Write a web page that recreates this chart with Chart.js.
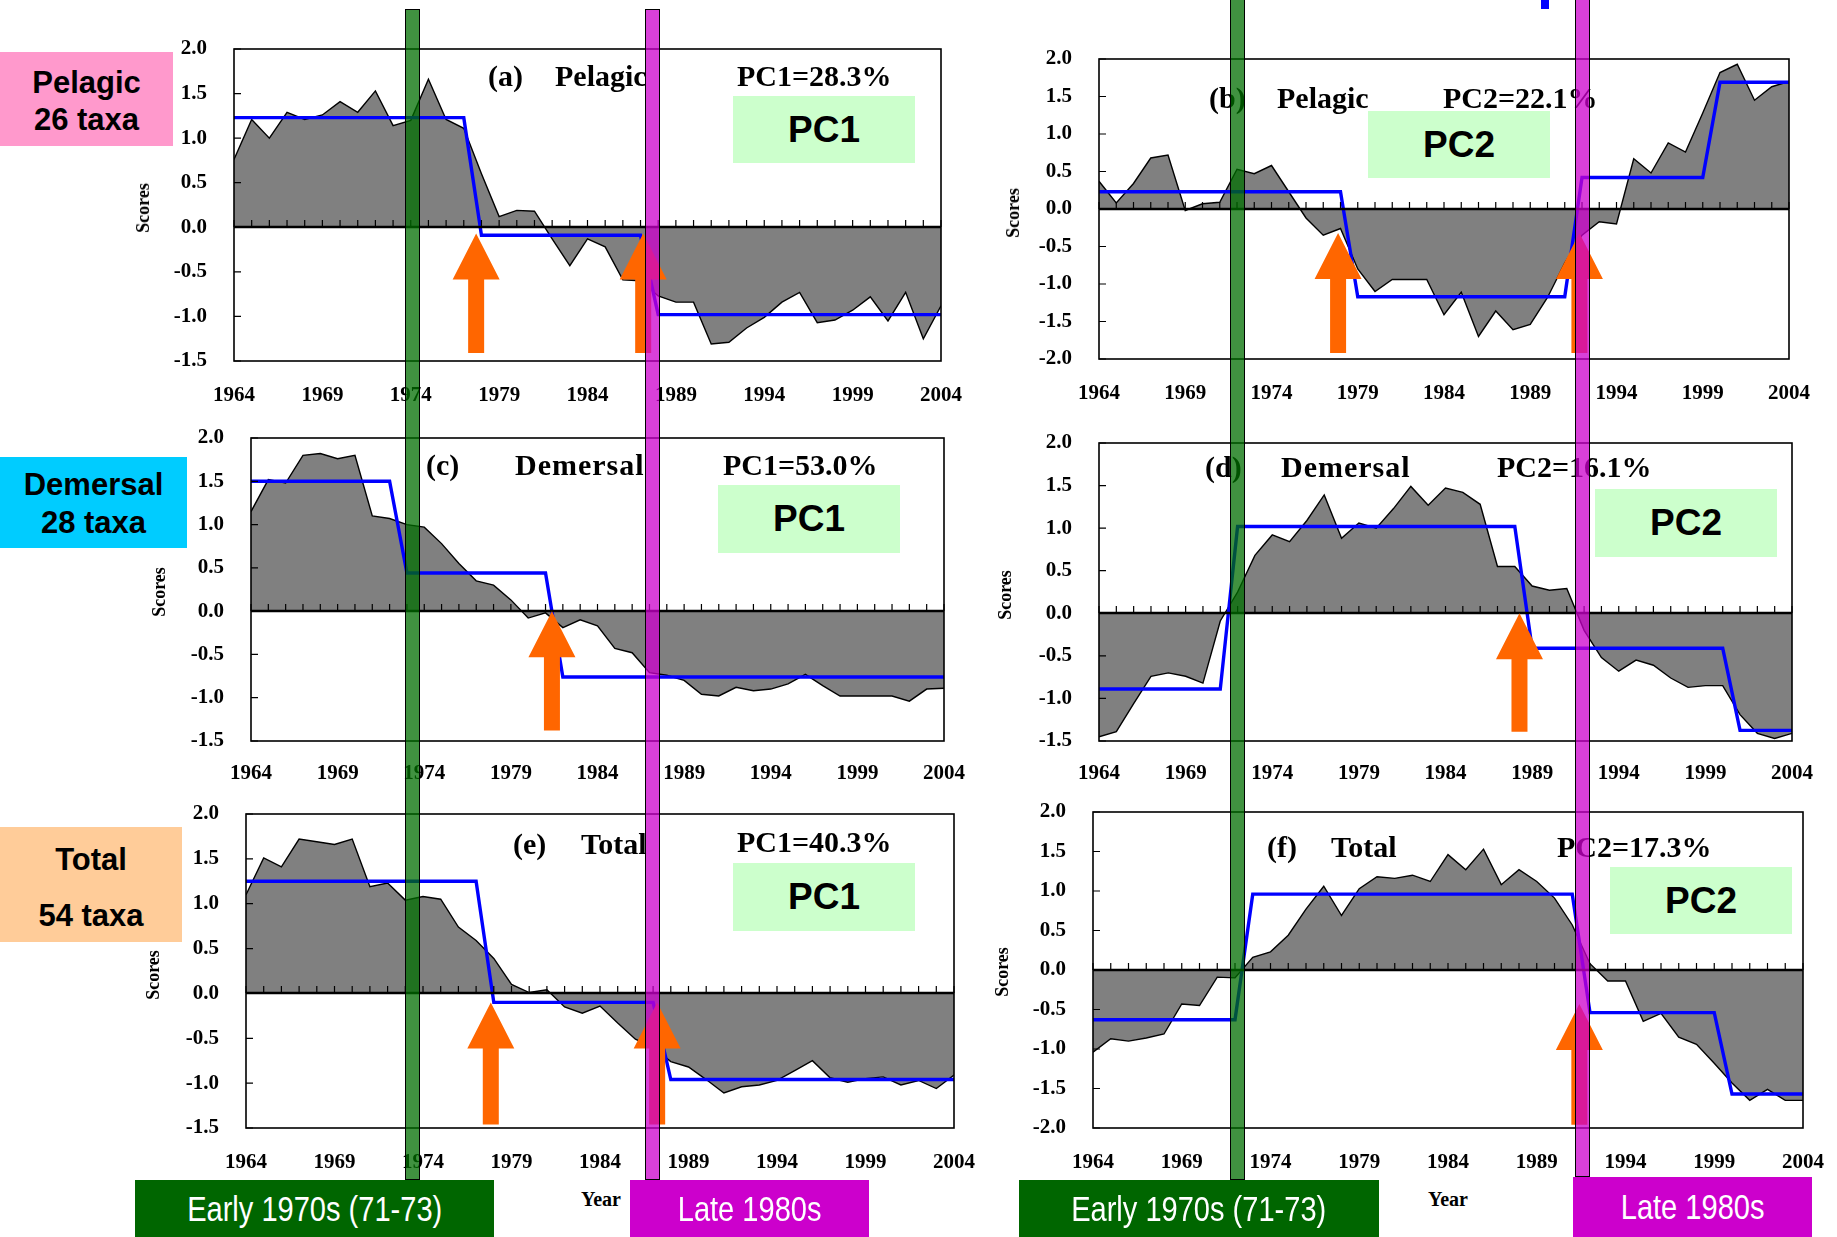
<!DOCTYPE html>
<html><head><meta charset="utf-8">
<script src="https://cdn.jsdelivr.net/npm/chart.js@4.4.1/dist/chart.umd.min.js"></script>
<style>
html,body{margin:0;padding:0;background:#fff;}
#page{position:relative;width:1837px;height:1237px;overflow:hidden;background:#fff;}
canvas{position:absolute;}
.t{position:absolute;white-space:nowrap;font-family:'Liberation Serif','Times New Roman',serif;font-weight:bold;color:#000;font-size:30px;line-height:30px;}
.box{position:absolute;background:#CCFFCC;display:flex;align-items:center;justify-content:center;font-family:'Liberation Sans',Arial,sans-serif;font-weight:bold;font-size:37px;color:#000;}
.side{position:absolute;display:flex;flex-direction:column;align-items:center;justify-content:center;font-family:'Liberation Sans',Arial,sans-serif;font-weight:bold;font-size:31px;color:#000;box-sizing:border-box;}
.sc{position:absolute;font-family:'Liberation Serif','Times New Roman',serif;font-weight:bold;font-size:18px;line-height:18px;transform:translate(-50%,-50%) rotate(-90deg);white-space:nowrap;}
.yr{position:absolute;font-family:'Liberation Serif','Times New Roman',serif;font-weight:bold;font-size:20px;line-height:20px;transform:translate(-50%,-50%);}
.bar{position:absolute;box-sizing:border-box;border:1.5px solid #000;}
.lab{position:absolute;display:flex;align-items:center;justify-content:center;font-family:'Liberation Sans Narrow','Liberation Sans',Arial,sans-serif;font-size:35px;color:#fff;}
.lab span{display:inline-block;transform:scaleX(0.83);white-space:nowrap;}
</style>
</head>
<body>
<div id="page">
<canvas id="ca"></canvas><canvas id="cb"></canvas><canvas id="cc"></canvas>
<canvas id="cd"></canvas><canvas id="ce"></canvas><canvas id="cf"></canvas>

<!-- side labels -->
<div class="side" style="left:0;top:52px;width:173px;height:94px;background:#FF99CC;line-height:37px;padding-top:3px;"><div>Pelagic</div><div>26 taxa</div></div>
<div class="side" style="left:0;top:457px;width:187px;height:91px;background:#00CCFF;line-height:38px;padding-top:3px;"><div>Demersal</div><div>28 taxa</div></div>
<div class="side" style="left:0;top:827px;width:182px;height:115px;background:#FFCC99;line-height:56px;padding-top:6px;"><div>Total</div><div>54 taxa</div></div>

<!-- panel titles -->
<div class="t" style="left:488px;top:61px;">(a)</div><div class="t" style="left:555px;top:61px;">Pelagic</div><div class="t" style="left:737px;top:61px;">PC1=28.3%</div>
<div class="t" style="left:1209px;top:83px;">(b)</div><div class="t" style="left:1277px;top:83px;">Pelagic</div><div class="t" style="left:1443px;top:83px;">PC2=22.1%</div>
<div class="t" style="left:426px;top:450px;">(c)</div><div class="t" style="left:515px;top:450px;letter-spacing:1px;">Demersal</div><div class="t" style="left:723px;top:450px;">PC1=53.0%</div>
<div class="t" style="left:1205px;top:452px;">(d)</div><div class="t" style="left:1281px;top:452px;letter-spacing:1px;">Demersal</div><div class="t" style="left:1497px;top:452px;">PC2=16.1%</div>
<div class="t" style="left:513px;top:829px;">(e)</div><div class="t" style="left:581px;top:829px;">Total</div><div class="t" style="left:737px;top:827px;">PC1=40.3%</div>
<div class="t" style="left:1267px;top:832px;">(f)</div><div class="t" style="left:1331px;top:832px;">Total</div><div class="t" style="left:1557px;top:832px;">PC2=17.3%</div>

<!-- PC boxes -->
<div class="box" style="left:733px;top:96px;width:182px;height:67px;">PC1</div>
<div class="box" style="left:1368px;top:111px;width:182px;height:67px;">PC2</div>
<div class="box" style="left:718px;top:485px;width:182px;height:68px;">PC1</div>
<div class="box" style="left:1595px;top:489px;width:182px;height:68px;">PC2</div>
<div class="box" style="left:733px;top:863px;width:182px;height:68px;">PC1</div>
<div class="box" style="left:1610px;top:867px;width:182px;height:67px;">PC2</div>

<!-- Scores -->
<div class="sc" style="left:143px;top:208px;">Scores</div>
<div class="sc" style="left:1013px;top:213px;">Scores</div>
<div class="sc" style="left:159px;top:592px;">Scores</div>
<div class="sc" style="left:1005px;top:595px;">Scores</div>
<div class="sc" style="left:153px;top:975px;">Scores</div>
<div class="sc" style="left:1002px;top:972px;">Scores</div>

<div class="yr" style="left:601px;top:1199px;">Year</div>
<div class="yr" style="left:1448px;top:1199px;">Year</div>

<!-- vertical period bars -->
<div class="bar" style="left:405px;top:9px;width:15px;height:1171px;background:rgba(0,110,0,0.75);"></div>
<div class="bar" style="left:645px;top:9px;width:15px;height:1171px;background:rgba(204,0,204,0.75);"></div>
<div class="bar" style="left:1230px;top:-2px;width:15px;height:1182px;background:rgba(0,110,0,0.75);"></div>
<div class="bar" style="left:1575px;top:-2px;width:15px;height:1179px;background:rgba(204,0,204,0.75);"></div>
<div style="position:absolute;left:1541px;top:0;width:8px;height:9px;background:#0000FF;"></div>

<!-- period labels -->
<div class="lab" style="left:135px;top:1180px;width:359px;height:57px;background:#006600;"><span>Early 1970s (71-73)</span></div>
<div class="lab" style="left:630px;top:1180px;width:239px;height:57px;background:#CC00CC;"><span>Late 1980s</span></div>
<div class="lab" style="left:1019px;top:1180px;width:360px;height:57px;background:#006600;"><span>Early 1970s (71-73)</span></div>
<div class="lab" style="left:1573px;top:1177px;width:239px;height:60px;background:#CC00CC;"><span>Late 1980s</span></div>
</div>

<script>
// ---------- data ----------
const years = [1964,1965,1966,1967,1968,1969,1970,1971,1972,1973,1974,1975,1976,1977,1978,1979,1980,1981,1982,1983,1984,1985,1986,1987,1988,1989,1990,1991,1992,1993,1994,1995,1996,1997,1998,1999,2000,2001,2002,2003,2004];
const xTickLabels = ['1964','1969','1974','1979','1984','1989','1994','1999','2004'];

// (a) Pelagic PC1
const pelagicPC1 = [0.76,1.21,1.00,1.29,1.21,1.26,1.41,1.29,1.53,1.14,1.20,1.66,1.21,1.11,0.60,0.12,0.19,0.18,-0.13,-0.43,-0.13,-0.22,-0.59,-0.60,-0.77,-0.84,-0.84,-1.31,-1.29,-1.13,-1.01,-0.84,-0.73,-1.07,-1.04,-0.93,-0.78,-1.05,-0.73,-1.25,-0.88];
const pelagicPC1Regime = [1.23,1.23,1.23,1.23,1.23,1.23,1.23,1.23,1.23,1.23,1.23,1.23,1.23,1.23,-0.09,-0.09,-0.09,-0.09,-0.09,-0.09,-0.09,-0.09,-0.09,-0.09,-0.98,-0.98,-0.98,-0.98,-0.98,-0.98,-0.98,-0.98,-0.98,-0.98,-0.98,-0.98,-0.98,-0.98,-0.98,-0.98,-0.98];
const pelagicPC1Shifts = [{year:1977.7,tip:-0.07,base:-1.41},{year:1987.15,tip:-0.07,base:-1.41}];

// (b) Pelagic PC2
const pelagicPC2 = [0.37,0.08,0.34,0.68,0.72,-0.02,0.07,0.09,0.53,0.47,0.58,0.23,-0.12,-0.35,-0.26,-0.80,-1.10,-0.94,-0.94,-0.94,-1.41,-1.11,-1.70,-1.36,-1.61,-1.54,-1.18,-0.72,-0.35,-0.17,-0.20,0.67,0.48,0.88,0.76,1.28,1.82,1.93,1.45,1.63,1.70];
const pelagicPC2Regime = [0.23,0.23,0.23,0.23,0.23,0.23,0.23,0.23,0.23,0.23,0.23,0.23,0.23,0.23,0.23,-1.17,-1.17,-1.17,-1.17,-1.17,-1.17,-1.17,-1.17,-1.17,-1.17,-1.17,-1.17,-1.17,0.42,0.42,0.42,0.42,0.42,0.42,0.42,0.42,1.69,1.69,1.69,1.69,1.69];
const pelagicPC2Shifts = [{year:1977.86,tip:-0.32,base:-1.92},{year:1991.85,tip:-0.32,base:-1.92}];

// (c) Demersal PC1
const demersalPC1 = [1.15,1.52,1.48,1.80,1.82,1.76,1.80,1.10,1.07,1.00,0.97,0.78,0.55,0.35,0.30,0.13,-0.08,-0.02,-0.19,-0.10,-0.17,-0.43,-0.48,-0.71,-0.74,-0.80,-0.96,-0.98,-0.88,-0.92,-0.90,-0.84,-0.73,-0.86,-0.98,-0.98,-0.98,-0.98,-1.04,-0.90,-0.89];
const demersalPC1Regime = [1.50,1.50,1.50,1.50,1.50,1.50,1.50,1.50,1.50,0.44,0.44,0.44,0.44,0.44,0.44,0.44,0.44,0.44,-0.76,-0.76,-0.76,-0.76,-0.76,-0.76,-0.76,-0.76,-0.76,-0.76,-0.76,-0.76,-0.76,-0.76,-0.76,-0.76,-0.76,-0.76,-0.76,-0.76,-0.76,-0.76,-0.76];
const demersalPC1Shifts = [{year:1981.37,tip:0.0,base:-1.38}];

// (d) Demersal PC2
const demersalPC2 = [-1.45,-1.39,-1.06,-0.74,-0.70,-0.74,-0.82,-0.09,0.25,0.68,0.92,0.84,1.09,1.39,0.88,1.06,1.00,1.23,1.49,1.27,1.47,1.42,1.28,0.55,0.55,0.32,0.27,0.29,-0.20,-0.52,-0.68,-0.55,-0.61,-0.76,-0.87,-0.85,-0.85,-1.19,-1.41,-1.47,-1.41];
const demersalPC2Regime = [-0.89,-0.89,-0.89,-0.89,-0.89,-0.89,-0.89,-0.89,1.02,1.02,1.02,1.02,1.02,1.02,1.02,1.02,1.02,1.02,1.02,1.02,1.02,1.02,1.02,1.02,1.02,-0.41,-0.41,-0.41,-0.41,-0.41,-0.41,-0.41,-0.41,-0.41,-0.41,-0.41,-0.41,-1.375,-1.375,-1.375,-1.375];
const demersalPC2Shifts = [{year:1988.27,tip:0.0,base:-1.39}];

// (e) Total PC1
const totalPC1 = [1.10,1.51,1.41,1.72,1.69,1.66,1.72,1.19,1.23,1.04,1.08,1.05,0.74,0.59,0.39,0.10,0.01,0.04,-0.15,-0.22,-0.14,-0.33,-0.51,-0.60,-0.76,-0.82,-0.96,-1.11,-1.04,-1.02,-0.97,-0.86,-0.75,-0.94,-0.99,-0.95,-0.93,-1.02,-0.97,-1.06,-0.91];
const totalPC1Regime = [1.25,1.25,1.25,1.25,1.25,1.25,1.25,1.25,1.25,1.25,1.25,1.25,1.25,1.25,-0.10,-0.10,-0.10,-0.10,-0.10,-0.10,-0.10,-0.10,-0.10,-0.10,-0.96,-0.96,-0.96,-0.96,-0.96,-0.96,-0.96,-0.96,-0.96,-0.96,-0.96,-0.96,-0.96,-0.96,-0.96,-0.96,-0.96];
const totalPC1Shifts = [{year:1977.83,tip:-0.10,base:-1.46},{year:1987.23,tip:-0.10,base:-1.46}];

// (f) Total PC2
const totalPC2 = [-1.04,-0.87,-0.90,-0.86,-0.81,-0.43,-0.45,-0.09,-0.10,0.16,0.23,0.44,0.77,1.06,0.69,1.03,1.18,1.16,1.20,1.12,1.46,1.27,1.53,1.08,1.27,1.12,0.91,0.57,0.08,-0.14,-0.14,-0.65,-0.55,-0.85,-0.94,-1.18,-1.43,-1.65,-1.51,-1.65,-1.65];
const totalPC2Regime = [-0.63,-0.63,-0.63,-0.63,-0.63,-0.63,-0.63,-0.63,-0.63,0.96,0.96,0.96,0.96,0.96,0.96,0.96,0.96,0.96,0.96,0.96,0.96,0.96,0.96,0.96,0.96,0.96,0.96,0.96,-0.54,-0.54,-0.54,-0.54,-0.54,-0.54,-0.54,-0.54,-1.57,-1.57,-1.57,-1.57,-1.57];
const totalPC2Shifts = [{year:1991.4,tip:-0.43,base:-1.96}];

// ---------- drawing ----------
const serifBold = {family:"'Liberation Serif','Times New Roman',serif", weight:'bold', size:21};
const PAD_T = 55, PAD_R = 70, Y_W = 110, X_H = 60;

const deco = {
  id:'deco',
  afterDatasetsDraw(chart, args, opts){
    const {ctx, chartArea:a} = chart;
    const x = chart.scales.x, y = chart.scales.y;
    ctx.save();
    const y0 = Math.round(y.getPixelForValue(0));
    ctx.strokeStyle = '#000';
    ctx.lineWidth = 1.2;
    ctx.beginPath();
    for (const yr of years){ const px = x.getPixelForValue(yr); ctx.moveTo(px, y0); ctx.lineTo(px, y0-7); }
    for (const t of y.ticks){ const py = y.getPixelForValue(t.value); ctx.moveTo(a.left, py); ctx.lineTo(a.left+7, py); }
    ctx.stroke();
    ctx.lineWidth = 2.6;
    ctx.beginPath(); ctx.moveTo(a.left, y0); ctx.lineTo(a.right, y0); ctx.stroke();
    ctx.lineWidth = 1.6;
    ctx.strokeRect(a.left, a.top, a.right-a.left, a.bottom-a.top);
    ctx.fillStyle = '#FF6600';
    const hw = 23.5, hh = 46, sw = 8;
    for (const ar of (opts.arrows||[])){
      const cx = x.getPixelForValue(ar.year), ty = y.getPixelForValue(ar.tip), by = y.getPixelForValue(ar.base);
      ctx.beginPath();
      ctx.moveTo(cx, ty); ctx.lineTo(cx+hw, ty+hh); ctx.lineTo(cx+sw, ty+hh); ctx.lineTo(cx+sw, by);
      ctx.lineTo(cx-sw, by); ctx.lineTo(cx-sw, ty+hh); ctx.lineTo(cx-hw, ty+hh); ctx.closePath();
      ctx.fill();
    }
    ctx.restore();
  }
};

function panel(id, p){
  const cv = document.getElementById(id);
  const L = p.plotL - Y_W, T = p.plotT - PAD_T, W = p.plotR + PAD_R - L, H = p.plotB + X_H - T;
  cv.width = W; cv.height = H;
  cv.style.left = L+'px'; cv.style.top = T+'px'; cv.style.width = W+'px'; cv.style.height = H+'px';
  new Chart(cv.getContext('2d'), {
    type:'line',
    data:{datasets:[
      {data: years.map((yr,i)=>({x:yr, y:p.regime[i]})), borderColor:'#0000FF', borderWidth:3.4, pointRadius:0, fill:false, tension:0, order:0},
      {data: years.map((yr,i)=>({x:yr, y:p.score[i]})), borderColor:'#000000', borderWidth:1.4, backgroundColor:'#808080', pointRadius:0, fill:'origin', tension:0, order:1}
    ]},
    options:{
      animation:false, responsive:false, maintainAspectRatio:false,
      layout:{padding:{left:0, top:PAD_T, right:PAD_R, bottom:0}},
      plugins:{legend:{display:false}, tooltip:{enabled:false}, deco:{arrows:p.arrows}},
      scales:{
        x:{type:'linear', min:1964, max:2004,
           grid:{display:false, drawTicks:false}, border:{display:false},
           ticks:{stepSize:1, autoSkip:false, maxRotation:0, minRotation:0, padding:p.xPad, color:'#000', font:serifBold,
                  callback:(v)=> xTickLabels.includes(String(v)) ? String(v) : ''},
           afterFit:(s)=>{ s.height = X_H; }},
        y:{type:'linear', min:p.yMin, max:p.yMax,
           grid:{display:false, drawTicks:false}, border:{display:false},
           ticks:{stepSize:0.5, padding:27, color:'#000', font:serifBold, callback:(v)=> Number(v).toFixed(1)},
           afterFit:(s)=>{ s.width = Y_W; }}
      }
    },
    plugins:[deco]
  });
}

panel('ca', {plotL:234, plotT:49, plotR:941, plotB:361, yMin:-1.5, yMax:2.0, score:pelagicPC1, regime:pelagicPC1Regime, arrows:pelagicPC1Shifts, xPad:21.5});
panel('cb', {plotL:1099, plotT:59, plotR:1789, plotB:359, yMin:-2.0, yMax:2.0, score:pelagicPC2, regime:pelagicPC2Regime, arrows:pelagicPC2Shifts, xPad:21.5});
panel('cc', {plotL:251, plotT:438, plotR:944, plotB:741, yMin:-1.5, yMax:2.0, score:demersalPC1, regime:demersalPC1Regime, arrows:demersalPC1Shifts, xPad:19.5});
panel('cd', {plotL:1099, plotT:443, plotR:1792, plotB:741, yMin:-1.5, yMax:2.0, score:demersalPC2, regime:demersalPC2Regime, arrows:demersalPC2Shifts, xPad:19.5});
panel('ce', {plotL:246, plotT:814, plotR:954, plotB:1128, yMin:-1.5, yMax:2.0, score:totalPC1, regime:totalPC1Regime, arrows:totalPC1Shifts, xPad:22});
panel('cf', {plotL:1093, plotT:812, plotR:1803, plotB:1128, yMin:-2.0, yMax:2.0, score:totalPC2, regime:totalPC2Regime, arrows:totalPC2Shifts, xPad:22});
</script>
</body></html>
